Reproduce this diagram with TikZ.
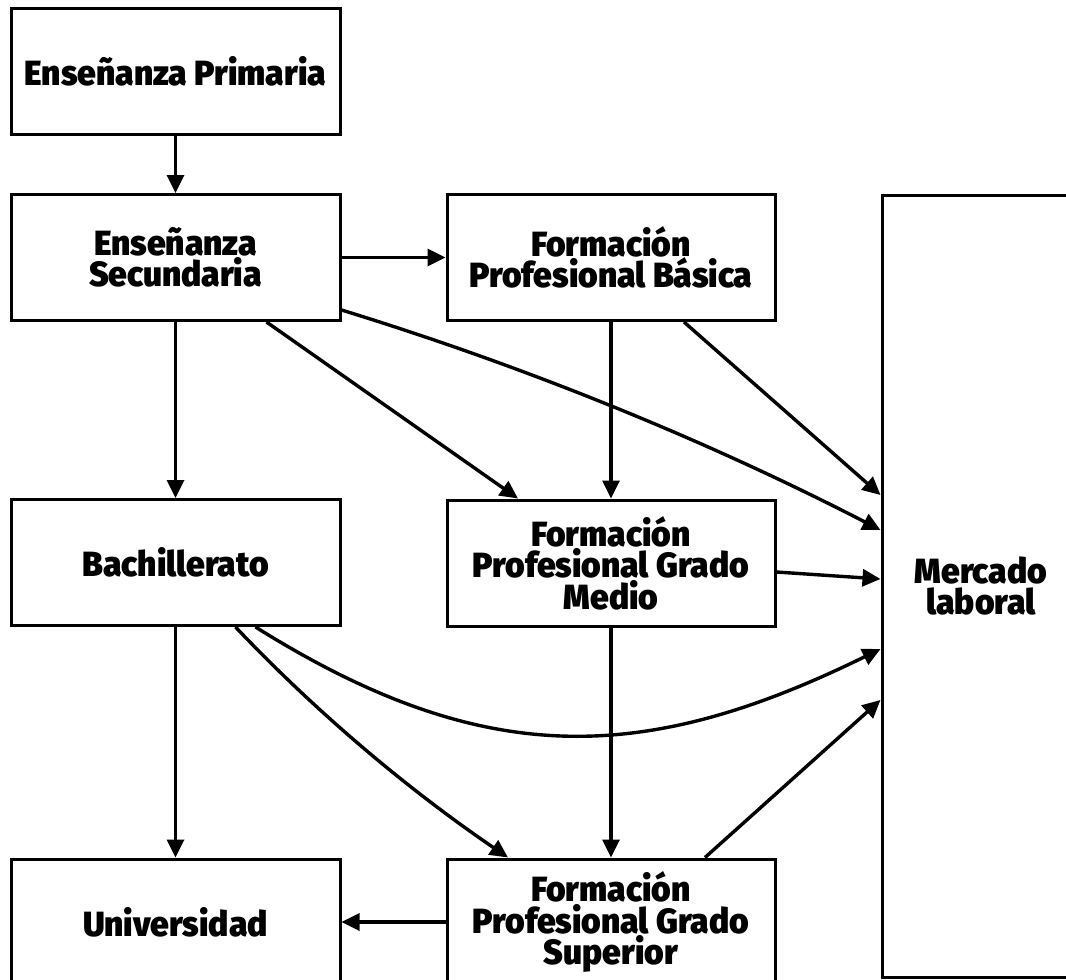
\documentclass[tikz,border=0pt]{standalone}
\usepackage{fontspec}
\newfontfamily\boxfont{Fira Sans}[UprightFont=* Black, FakeStretch=0.96]
\usetikzlibrary{arrows.meta}
\begin{document}
\begin{tikzpicture}[x=1pt,y=-1pt,
  box/.style={draw, line width=3pt, rectangle, inner sep=0pt,
    minimum width=329pt, minimum height=126pt, align=center,
    font=\boxfont\fontsize{35}{31.5}\selectfont},
  arr/.style={line width=3.4pt, -{Triangle[length=18pt,width=17pt]}}]
\useasboundingbox (0,0) rectangle (1066,980);
\begin{scope}
\clip (0,0) rectangle (1066,980);
% boxes
\node[box] (prim) at (175.5,71) {Enseñanza Primaria};
\node[box] (sec)  at (175.5,257.5) {Enseñanza\\Secundaria};
\node[box, minimum width=328pt] (fpb) at (611,257.5) {Formación\\Profesional Básica};
\node[box] (bach) at (175.5,562.5) {Bachillerato};
\node[box, minimum width=328pt] (fpm) at (611,563) {Formación\\Profesional Grado\\Medio};
\node[box] (uni)  at (175.5,922) {Universidad};
\node[box, minimum width=328pt] (fps) at (611,922) {Formación\\Profesional Grado\\Superior};
\node[box, minimum width=198pt, minimum height=782pt] (merc) at (981,586) {Mercado\\laboral};
% connectors
\draw[arr] (prim) -- (sec);
\draw[arr] (sec) -- (fpb);
\draw[arr] (sec) -- (bach);
\draw[arr] ([xshift=91pt]sec.south) -- ([xshift=-93pt]fpm.north);
\draw[arr] ([yshift=-52.5pt]sec.east) .. controls (527,367) and (708,441) .. ([yshift=56pt]merc.west);
\draw[arr] (fpb) -- (fpm);
\draw[arr] ([xshift=73pt]fpb.south) -- ([yshift=91pt]merc.west);
\draw[arr] ([yshift=-9pt]fpm.east) -- ([yshift=7pt]merc.west);
\draw[arr] (fpm) -- (fps);
\draw[arr] (bach) -- (uni);
\draw[arr] ([xshift=60pt]bach.south) .. controls (318,714) and (409,790) .. ([xshift=-103pt]fps.north);
\draw[arr] ([xshift=80pt]bach.south) .. controls (484,770) and (644,765) .. ([yshift=-63pt]merc.west);
\draw[arr] ([xshift=94pt]fps.north) -- ([yshift=-114pt]merc.west);
\draw[arr] (fps) -- (uni);
\end{scope}
\end{tikzpicture}
\end{document}
